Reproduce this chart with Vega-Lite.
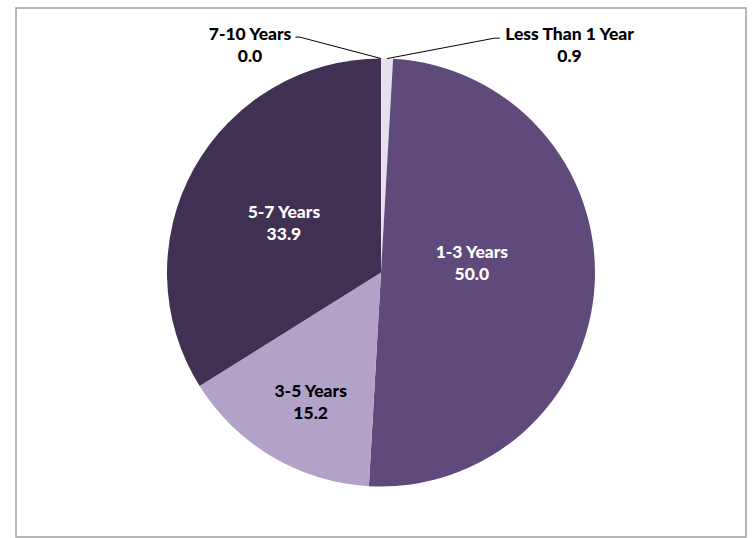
{
  "$schema": "https://vega.github.io/schema/vega-lite/v6.json",
  "width": 755,
  "height": 538,
  "autosize": {"type": "fit", "contains": "padding"},
  "padding": {"left": 16, "top": 8, "right": 9, "bottom": 1},
  "background": "white",
  "config": {
    "view": {"stroke": "#a0a0a0", "strokeWidth": 1.5},
    "text": {"font": "Lato", "fontWeight": 900, "fontSize": 17.5, "lineHeight": 22, "lineBreak": "\n", "align": "center", "baseline": "middle"},
    "rule": {"color": "#000000", "strokeWidth": 1}
  },
  "data": {
    "values": [
      {"category": "Less Than 1 Year", "value": 0.9, "order": 1},
      {"category": "1-3 Years", "value": 50.0, "order": 2},
      {"category": "3-5 Years", "value": 15.2, "order": 3},
      {"category": "5-7 Years", "value": 33.9, "order": 4},
      {"category": "7-10 Years", "value": 0.0, "order": 5}
    ]
  },
  "transform": [
    {"stack": "value", "groupby": [], "sort": [{"field": "order"}], "as": ["v0", "v1"]},
    {"calculate": "(datum.v0 + datum.v1) / 2", "as": "mid"},
    {"calculate": "sin(datum.mid / 100 * 2 * PI)", "as": "edgeX"},
    {"calculate": "cos(datum.mid / 100 * 2 * PI)", "as": "edgeY"},
    {"calculate": "datum.category + '\\n' + format(datum.value, '.1f')", "as": "label"}
  ],
  "layer": [
    {
      "mark": {"type": "arc", "outerRadius": 214},
      "encoding": {
        "theta": {"field": "v0", "type": "quantitative", "scale": {"domain": [0, 100]}},
        "theta2": {"field": "v1"},
        "color": {
          "field": "category",
          "type": "nominal",
          "scale": {
            "domain": ["Less Than 1 Year", "1-3 Years", "3-5 Years", "5-7 Years", "7-10 Years"],
            "range": ["#e6e0ec", "#604a7b", "#b3a2c7", "#403152", "#ccc1da"]
          },
          "legend": null
        }
      }
    },
    {
      "transform": [{"filter": "datum.category === '1-3 Years'"}],
      "mark": {"type": "text", "radius": 91, "dy": -25, "color": "white"},
      "encoding": {
        "theta": {"field": "mid", "type": "quantitative", "scale": {"domain": [0, 100]}},
        "text": {"field": "label"}
      }
    },
    {
      "transform": [{"filter": "datum.category === '5-7 Years'"}],
      "mark": {"type": "text", "radius": 111, "dy": -6, "color": "white"},
      "encoding": {
        "theta": {"field": "mid", "type": "quantitative", "scale": {"domain": [0, 100]}},
        "text": {"field": "label"}
      }
    },
    {
      "transform": [{"filter": "datum.category === '3-5 Years'"}],
      "mark": {"type": "text", "radius": 146, "dx": 4, "dy": -6, "color": "black"},
      "encoding": {
        "theta": {"field": "mid", "type": "quantitative", "scale": {"domain": [0, 100]}},
        "text": {"field": "label"}
      }
    },
    {
      "transform": [{"filter": "datum.category === '7-10 Years'"}],
      "mark": {"type": "text", "color": "black", "dy": -10},
      "encoding": {
        "x": {"datum": -0.612, "type": "quantitative", "scale": {"domain": [-1.70561, 1.70561], "nice": false, "zero": false}, "axis": null},
        "y": {"datum": 1.063, "type": "quantitative", "scale": {"domain": [-1.23598, 1.23598], "nice": false, "zero": false}, "axis": null},
        "text": {"field": "label"}
      }
    },
    {
      "transform": [{"filter": "datum.category === 'Less Than 1 Year'"}],
      "mark": {"type": "text", "color": "black", "dy": -10},
      "encoding": {
        "x": {"datum": 0.881, "type": "quantitative", "scale": {"domain": [-1.70561, 1.70561], "nice": false, "zero": false}, "axis": null},
        "y": {"datum": 1.063, "type": "quantitative", "scale": {"domain": [-1.23598, 1.23598], "nice": false, "zero": false}, "axis": null},
        "text": {"field": "label"}
      }
    },
    {
      "transform": [{"filter": "datum.category === '7-10 Years'"}],
      "mark": {"type": "rule"},
      "encoding": {
        "x": {"field": "edgeX", "type": "quantitative", "scale": {"domain": [-1.70561, 1.70561], "nice": false, "zero": false}, "axis": null},
        "y": {"field": "edgeY", "type": "quantitative", "scale": {"domain": [-1.23598, 1.23598], "nice": false, "zero": false}, "axis": null},
        "x2": {"datum": -0.38},
        "y2": {"datum": 1.1}
      }
    },
    {
      "transform": [{"filter": "datum.category === '7-10 Years'"}],
      "mark": {"type": "rule"},
      "encoding": {
        "x": {"datum": -0.4, "type": "quantitative", "scale": {"domain": [-1.70561, 1.70561], "nice": false, "zero": false}, "axis": null},
        "x2": {"datum": -0.38},
        "y": {"datum": 1.1, "type": "quantitative", "scale": {"domain": [-1.23598, 1.23598], "nice": false, "zero": false}, "axis": null}
      }
    },
    {
      "transform": [{"filter": "datum.category === 'Less Than 1 Year'"}],
      "mark": {"type": "rule"},
      "encoding": {
        "x": {"field": "edgeX", "type": "quantitative", "scale": {"domain": [-1.70561, 1.70561], "nice": false, "zero": false}, "axis": null},
        "y": {"field": "edgeY", "type": "quantitative", "scale": {"domain": [-1.23598, 1.23598], "nice": false, "zero": false}, "axis": null},
        "x2": {"datum": 0.53},
        "y2": {"datum": 1.095}
      }
    },
    {
      "transform": [{"filter": "datum.category === 'Less Than 1 Year'"}],
      "mark": {"type": "rule"},
      "encoding": {
        "x": {"datum": 0.53, "type": "quantitative", "scale": {"domain": [-1.70561, 1.70561], "nice": false, "zero": false}, "axis": null},
        "x2": {"datum": 0.555},
        "y": {"datum": 1.095, "type": "quantitative", "scale": {"domain": [-1.23598, 1.23598], "nice": false, "zero": false}, "axis": null}
      }
    }
  ]
}
